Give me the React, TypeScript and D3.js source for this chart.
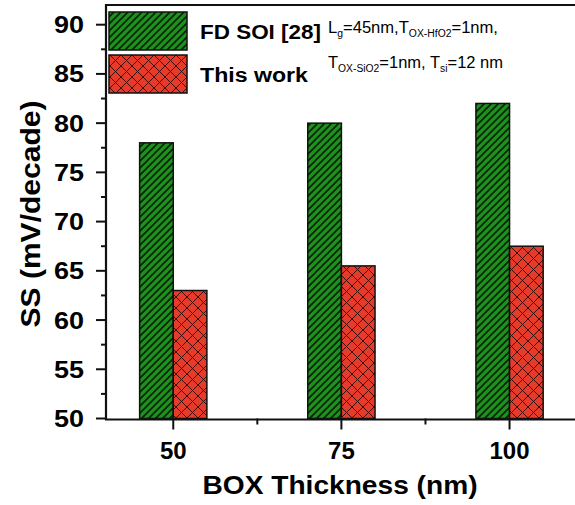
import { useEffect, useRef } from "react";
import * as d3 from "d3";

// data
const boxThickness = [50, 75, 100];
const fdSoi = [78, 80, 82];
const thisWork = [63, 65.5, 67.5];
const yTicks = [50, 55, 60, 65, 70, 75, 80, 85, 90];
const xTicks = [50, 75, 100];

const GREEN = "#1c921c";
const RED = "#e63a2b";

const App = () => {
  const svgRef = useRef<SVGSVGElement | null>(null);

  useEffect(() => {
    const svg = d3.select(svgRef.current);
    svg.selectAll("*").remove();

    const font = "'Liberation Sans', Arial, sans-serif";

    // hatch patterns
    const defs = svg.append("defs");
    const diag = defs
      .append("pattern")
      .attr("id", "diag")
      .attr("patternUnits", "userSpaceOnUse")
      .attr("width", 7)
      .attr("height", 7);
    diag.append("rect").attr("width", 7).attr("height", 7).attr("fill", GREEN);
    diag
      .append("path")
      .attr("d", "M0,7 L7,0 M-1,1 L1,-1 M6,8 L8,6")
      .attr("stroke", "#082008")
      .attr("stroke-width", 1.6);

    const cross = defs
      .append("pattern")
      .attr("id", "cross")
      .attr("patternUnits", "userSpaceOnUse")
      .attr("width", 11)
      .attr("height", 11);
    cross.append("rect").attr("width", 11).attr("height", 11).attr("fill", RED);
    cross
      .append("path")
      .attr("d", "M0,11 L11,0 M-1,1 L1,-1 M10,12 L12,10 M0,0 L11,11 M-1,10 L1,12 M10,-1 L12,1")
      .attr("stroke", "#3a0d08")
      .attr("stroke-width", 1);

    // scales
    const x = d3.scaleLinear().domain([40, 110]).range([106, 576.8]);
    const y = d3.scaleLinear().domain([50, 92]).range([418.5, 5]);
    const barW = 5; // in data units

    const g = svg.append("g");

    // bars
    g.selectAll("rect.fd")
      .data(fdSoi)
      .join("rect")
      .attr("class", "fd")
      .attr("x", (_, i) => x(boxThickness[i] - barW))
      .attr("width", (_, i) => x(boxThickness[i]) - x(boxThickness[i] - barW))
      .attr("y", (d) => y(d))
      .attr("height", (d) => y(50) - y(d))
      .attr("fill", "url(#diag)")
      .attr("stroke", "#111")
      .attr("stroke-width", 1.5);

    g.selectAll("rect.tw")
      .data(thisWork)
      .join("rect")
      .attr("class", "tw")
      .attr("x", (_, i) => x(boxThickness[i]))
      .attr("width", (_, i) => x(boxThickness[i] + barW) - x(boxThickness[i]))
      .attr("y", (d) => y(d))
      .attr("height", (d) => y(50) - y(d))
      .attr("fill", "url(#cross)")
      .attr("stroke", "#111")
      .attr("stroke-width", 1.5);

    // frame
    g.append("path")
      .attr("d", `M${x(110) + 2},${y(92)} H${x(40)} V${y(50) + 1} H${x(110) + 2}`)
      .attr("fill", "none")
      .attr("stroke", "#111")
      .attr("stroke-width", 2.2);

    // y axis ticks
    const yMinor = d3.range(52.5, 92, 5);
    g.selectAll("line.ymaj")
      .data(yTicks)
      .join("line")
      .attr("x1", x(40) - 10)
      .attr("x2", x(40))
      .attr("y1", (d) => y(d))
      .attr("y2", (d) => y(d))
      .attr("stroke", "#111")
      .attr("stroke-width", 2);
    g.selectAll("line.ymin")
      .data(yMinor)
      .join("line")
      .attr("x1", x(40) - 5)
      .attr("x2", x(40))
      .attr("y1", (d) => y(d))
      .attr("y2", (d) => y(d))
      .attr("stroke", "#111")
      .attr("stroke-width", 2);
    g.selectAll("text.ytl")
      .data(yTicks)
      .join("text")
      .attr("x", x(40) - 22)
      .attr("y", (d) => y(d) + 8.5)
      .attr("text-anchor", "end")
      .attr("font-family", font)
      .attr("font-weight", "bold")
      .attr("font-size", 24)
      .attr("textLength", 30)
      .attr("lengthAdjust", "spacingAndGlyphs")
      .text((d) => d);

    // x axis ticks
    const xMinor = [62.5, 87.5];
    g.selectAll("line.xmaj")
      .data(xTicks)
      .join("line")
      .attr("x1", (d) => x(d))
      .attr("x2", (d) => x(d))
      .attr("y1", y(50))
      .attr("y2", y(50) + 11)
      .attr("stroke", "#111")
      .attr("stroke-width", 2);
    g.selectAll("line.xmin")
      .data(xMinor)
      .join("line")
      .attr("x1", (d) => x(d))
      .attr("x2", (d) => x(d))
      .attr("y1", y(50))
      .attr("y2", y(50) + 6)
      .attr("stroke", "#111")
      .attr("stroke-width", 2);
    g.selectAll("text.xtl")
      .data(xTicks)
      .join("text")
      .attr("x", (d) => x(d))
      .attr("y", 459)
      .attr("text-anchor", "middle")
      .attr("font-family", font)
      .attr("font-weight", "bold")
      .attr("font-size", 24)
      .text((d) => d);

    // axis titles
    svg
      .append("text")
      .attr("x", 340)
      .attr("y", 494)
      .attr("text-anchor", "middle")
      .attr("font-family", font)
      .attr("font-weight", "bold")
      .attr("font-size", 25)
      .attr("textLength", 275)
      .attr("lengthAdjust", "spacingAndGlyphs")
      .text("BOX Thickness (nm)");
    svg
      .append("text")
      .attr("transform", `translate(40,214) rotate(-90)`)
      .attr("text-anchor", "middle")
      .attr("font-family", font)
      .attr("font-weight", "bold")
      .attr("font-size", 28)
      .attr("textLength", 227)
      .attr("lengthAdjust", "spacingAndGlyphs")
      .text("SS (mV/decade)");

    // legend
    const leg = svg.append("g");
    const legItems = [
      { label: "FD SOI [28]", fill: "url(#diag)", y0: 12, len: 121 },
      { label: "This work", fill: "url(#cross)", y0: 55, len: 108 },
    ];
    legItems.forEach((it) => {
      leg
        .append("rect")
        .attr("x", 109)
        .attr("y", it.y0)
        .attr("width", 78)
        .attr("height", 38)
        .attr("fill", it.fill)
        .attr("stroke", "#111")
        .attr("stroke-width", 1.5);
      leg
        .append("text")
        .attr("x", 200)
        .attr("y", it.y0 + 26.5)
        .attr("font-family", font)
        .attr("font-weight", "bold")
        .attr("font-size", 20)
        .attr("textLength", it.len)
        .attr("lengthAdjust", "spacingAndGlyphs")
        .text(it.label);
    });

    // device parameter note
    const note = (y0: number, len: number, parts: [string, boolean][]) => {
      const t = leg
        .append("text")
        .attr("x", 328)
        .attr("y", y0)
        .attr("font-family", font)
        .attr("font-size", 16)
        .attr("textLength", len)
        .attr("lengthAdjust", "spacingAndGlyphs");
      parts.forEach(([s, sub]) => {
        t.append("tspan")
          .attr("font-size", sub ? 10 : 16)
          .attr("baseline-shift", sub ? "-4" : "0")
          .text(s);
      });
    };
    note(33, 170, [
      ["L", false],
      ["g", true],
      ["=45nm,T", false],
      ["OX-HfO2", true],
      ["=1nm,", false],
    ]);
    note(68, 175, [
      ["T", false],
      ["OX-SiO2", true],
      ["=1nm, T", false],
      ["si", true],
      ["=12 nm", false],
    ]);
  }, []);

  return (
    <svg
      ref={svgRef}
      width={575}
      height={505}
      style={{ position: "absolute", left: 0, top: 0, background: "#fff" }}
    />
  );
};

export default App;
